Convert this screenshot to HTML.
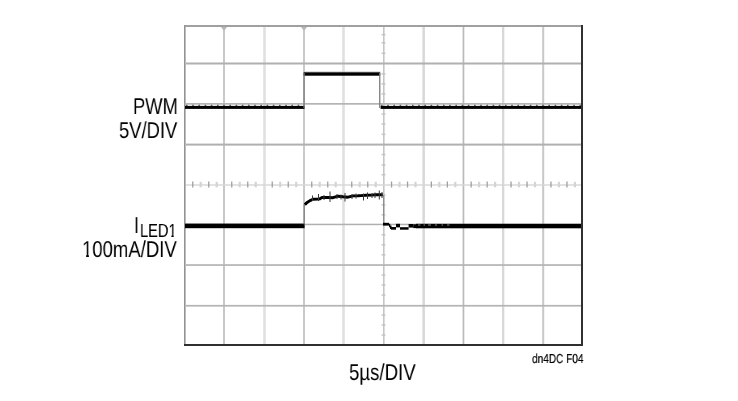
<!DOCTYPE html>
<html><head><meta charset="utf-8">
<style>
html,body{margin:0;padding:0;background:#fff;}
body{width:738px;height:401px;position:relative;overflow:hidden;font-family:"Liberation Sans",sans-serif;color:#000;}
svg{position:absolute;left:0;top:0;}
.t{position:absolute;white-space:nowrap;line-height:1;transform-origin:0 0;will-change:transform;text-rendering:geometricPrecision;color:#000;}
#dn{-webkit-text-stroke:0.2px #000;}
</style></head><body>
<svg width="738" height="401" viewBox="0 0 738 401">
<rect x="223" y="27" width="2" height="317" fill="#c8c8c8"/>
<rect x="263.2" y="27" width="2.6" height="317" fill="#e0e0e0"/>
<rect x="303" y="27" width="2" height="317" fill="#cacaca"/>
<rect x="342.2" y="27" width="2.6" height="317" fill="#e0e0e0"/>
<rect x="383" y="27" width="1.6" height="317" fill="#c6c6c6"/>
<rect x="422.4" y="27" width="2.5" height="317" fill="#d8d8d8"/>
<rect x="462.6" y="27" width="1.7" height="317" fill="#bababa"/>
<rect x="502" y="27" width="2.3" height="317" fill="#d8d8d8"/>
<rect x="542.2" y="27" width="2" height="317" fill="#c8c8c8"/>
<rect x="186" y="62.5" width="395" height="2" fill="#b0b0b0"/>
<rect x="186" y="103" width="395" height="1.7" fill="#b4b4b4"/>
<rect x="186" y="143.6" width="395" height="2" fill="#b0b0b0"/>
<rect x="186" y="184.3" width="395" height="1.4" fill="#d6d6d6"/>
<rect x="186" y="223.7" width="395" height="1.5" fill="#b0b0b0"/>
<rect x="186" y="264.2" width="395" height="1.7" fill="#b4b4b4"/>
<rect x="186" y="304.9" width="395" height="1.7" fill="#b4b4b4"/>
<rect x="192.1" y="181.5" width="1.3" height="6" fill="#a0a0a0"/>
<rect x="199.6" y="181.8" width="2.2" height="5.5" fill="#d4d4d4"/>
<rect x="208.1" y="181.5" width="1.3" height="6" fill="#a0a0a0"/>
<rect x="215.6" y="181.8" width="2.2" height="5.5" fill="#d4d4d4"/>
<rect x="231.1" y="181.5" width="1.3" height="6" fill="#a0a0a0"/>
<rect x="238.6" y="181.8" width="2.2" height="5.5" fill="#d4d4d4"/>
<rect x="247.1" y="181.5" width="1.3" height="6" fill="#a0a0a0"/>
<rect x="254.6" y="181.8" width="2.2" height="5.5" fill="#d4d4d4"/>
<rect x="271.59999999999997" y="181.5" width="1.3" height="6" fill="#a0a0a0"/>
<rect x="279.09999999999997" y="181.8" width="2.2" height="5.5" fill="#d4d4d4"/>
<rect x="287.59999999999997" y="181.5" width="1.3" height="6" fill="#a0a0a0"/>
<rect x="295.09999999999997" y="181.8" width="2.2" height="5.5" fill="#d4d4d4"/>
<rect x="311.09999999999997" y="181.5" width="1.3" height="6" fill="#a0a0a0"/>
<rect x="318.59999999999997" y="181.8" width="2.2" height="5.5" fill="#d4d4d4"/>
<rect x="327.09999999999997" y="181.5" width="1.3" height="6" fill="#a0a0a0"/>
<rect x="334.59999999999997" y="181.8" width="2.2" height="5.5" fill="#d4d4d4"/>
<rect x="351.09999999999997" y="181.5" width="1.3" height="6" fill="#a0a0a0"/>
<rect x="358.59999999999997" y="181.8" width="2.2" height="5.5" fill="#d4d4d4"/>
<rect x="367.09999999999997" y="181.5" width="1.3" height="6" fill="#a0a0a0"/>
<rect x="374.59999999999997" y="181.8" width="2.2" height="5.5" fill="#d4d4d4"/>
<rect x="390.9" y="181.5" width="1.3" height="6" fill="#a0a0a0"/>
<rect x="398.4" y="181.8" width="2.2" height="5.5" fill="#d4d4d4"/>
<rect x="406.9" y="181.5" width="1.3" height="6" fill="#a0a0a0"/>
<rect x="414.4" y="181.8" width="2.2" height="5.5" fill="#d4d4d4"/>
<rect x="430.7" y="181.5" width="1.3" height="6" fill="#a0a0a0"/>
<rect x="438.2" y="181.8" width="2.2" height="5.5" fill="#d4d4d4"/>
<rect x="446.7" y="181.5" width="1.3" height="6" fill="#a0a0a0"/>
<rect x="454.2" y="181.8" width="2.2" height="5.5" fill="#d4d4d4"/>
<rect x="470.49999999999994" y="181.5" width="1.3" height="6" fill="#a0a0a0"/>
<rect x="477.99999999999994" y="181.8" width="2.2" height="5.5" fill="#d4d4d4"/>
<rect x="486.49999999999994" y="181.5" width="1.3" height="6" fill="#a0a0a0"/>
<rect x="493.99999999999994" y="181.8" width="2.2" height="5.5" fill="#d4d4d4"/>
<rect x="510.4" y="181.5" width="1.3" height="6" fill="#a0a0a0"/>
<rect x="517.9" y="181.8" width="2.2" height="5.5" fill="#d4d4d4"/>
<rect x="526.4" y="181.5" width="1.3" height="6" fill="#a0a0a0"/>
<rect x="533.9" y="181.8" width="2.2" height="5.5" fill="#d4d4d4"/>
<rect x="550.3000000000001" y="181.5" width="1.3" height="6" fill="#a0a0a0"/>
<rect x="557.8000000000001" y="181.8" width="2.2" height="5.5" fill="#d4d4d4"/>
<rect x="566.3000000000001" y="181.5" width="1.3" height="6" fill="#a0a0a0"/>
<rect x="573.8000000000001" y="181.8" width="2.2" height="5.5" fill="#d4d4d4"/>
<rect x="381.6" y="33.9" width="3.8" height="1.5" fill="#c4c4c4"/>
<rect x="381.6" y="42.099999999999994" width="3.8" height="1.5" fill="#c4c4c4"/>
<rect x="381.6" y="52.5" width="3.8" height="1.5" fill="#c4c4c4"/>
<rect x="381.6" y="73.1" width="3.8" height="1.5" fill="#c4c4c4"/>
<rect x="381.6" y="83.1" width="3.8" height="1.5" fill="#c4c4c4"/>
<rect x="381.6" y="93.1" width="3.8" height="1.5" fill="#c4c4c4"/>
<rect x="381.6" y="113.3" width="3.8" height="1.5" fill="#c4c4c4"/>
<rect x="381.6" y="123.3" width="3.8" height="1.5" fill="#c4c4c4"/>
<rect x="381.6" y="133.60000000000002" width="3.8" height="1.5" fill="#c4c4c4"/>
<rect x="381.6" y="153.8" width="3.8" height="1.5" fill="#c4c4c4"/>
<rect x="381.6" y="164.3" width="3.8" height="1.5" fill="#c4c4c4"/>
<rect x="381.6" y="174.0" width="3.8" height="1.5" fill="#c4c4c4"/>
<rect x="381.6" y="194.10000000000002" width="3.8" height="1.5" fill="#c4c4c4"/>
<rect x="381.6" y="204.10000000000002" width="3.8" height="1.5" fill="#c4c4c4"/>
<rect x="381.6" y="214.10000000000002" width="3.8" height="1.5" fill="#c4c4c4"/>
<rect x="381.6" y="234.10000000000002" width="3.8" height="1.5" fill="#c4c4c4"/>
<rect x="381.6" y="244.10000000000002" width="3.8" height="1.5" fill="#c4c4c4"/>
<rect x="381.6" y="254.10000000000002" width="3.8" height="1.5" fill="#c4c4c4"/>
<rect x="381.6" y="274.3" width="3.8" height="1.5" fill="#c4c4c4"/>
<rect x="381.6" y="284.3" width="3.8" height="1.5" fill="#c4c4c4"/>
<rect x="381.6" y="294.3" width="3.8" height="1.5" fill="#c4c4c4"/>
<rect x="381.6" y="314.3" width="3.8" height="1.5" fill="#c4c4c4"/>
<rect x="381.6" y="324.3" width="3.8" height="1.5" fill="#c4c4c4"/>
<rect x="381.6" y="334.3" width="3.8" height="1.5" fill="#c4c4c4"/>
<rect x="184" y="25" width="399" height="2" fill="#a0a0a0"/>
<rect x="184" y="25" width="1" height="321" fill="#949494"/>
<rect x="185" y="27" width="1" height="317" fill="#bcbcbc"/>
<rect x="581" y="25" width="2" height="321" fill="#303030"/>
<rect x="184" y="344" width="399" height="2" fill="#303030"/>
<path d="M221,27 L227,27 L224,31 Z" fill="#b8b8b8"/>
<path d="M301,27 L307,27 L304,31 Z" fill="#b8b8b8"/>
<rect x="185" y="105.9" width="119.5" height="3.0" fill="#000"/>
<rect x="380.6" y="105.9" width="200.4" height="3.0" fill="#000"/>
<rect x="303.6" y="71.4" width="76.6" height="1.0" fill="#c8c8c8"/>
<rect x="303.6" y="72.3" width="76.6" height="3.4" fill="#000"/>
<rect x="303.4" y="73" width="1.3" height="35" fill="#7a7a7a"/>
<rect x="379.1" y="73" width="1.3" height="35" fill="#7a7a7a"/>
<line x1="186" y1="105.4" x2="304" y2="105.4" stroke="#5a5a5a" stroke-width="1.1" stroke-dasharray="1.6 4.6"/>
<line x1="381" y1="105.4" x2="581" y2="105.4" stroke="#5a5a5a" stroke-width="1.1" stroke-dasharray="1.6 4.6"/>
<rect x="185" y="223.6" width="119.6" height="4.6" fill="#000"/>
<rect x="303.6" y="204" width="1.2" height="20.5" fill="#7a7a7a"/>
<path d="M304.8,204.6 L307.5,202.2 L310,200.6 L313,199.2 L318,199.0 L320,198.7 L322,197.4 L328,197.5 L333,197.7 L338,196.2 L343,196.8 L348,197.2 L353,195.9 L358,195.8 L361,195.6 L366,195.3 L371,195.1 L376,194.8 L382.8,194.8" fill="none" stroke="#000" stroke-width="2.9" stroke-linejoin="round"/>
<rect x="312.0" y="195.5" width="1.0" height="5.5" fill="#3a3a3a"/>
<rect x="318.0" y="194" width="1.0" height="7" fill="#3a3a3a"/>
<rect x="329.5" y="191.5" width="1.0" height="10.5" fill="#3a3a3a"/>
<rect x="344.5" y="193" width="1.0" height="8.5" fill="#3a3a3a"/>
<rect x="363.0" y="193.5" width="1.0" height="7.0" fill="#3a3a3a"/>
<rect x="367.0" y="192.5" width="1.0" height="6.5" fill="#3a3a3a"/>
<rect x="378.8" y="190.5" width="1.0" height="9.0" fill="#3a3a3a"/>
<rect x="351.5" y="194" width="1.0" height="5" fill="#3a3a3a"/>
<rect x="323.5" y="195" width="1.0" height="5" fill="#3a3a3a"/>
<rect x="336.5" y="194" width="1.0" height="5" fill="#3a3a3a"/>
<rect x="340.5" y="194.5" width="1.0" height="5.0" fill="#3a3a3a"/>
<rect x="355.5" y="193.5" width="1.0" height="5.0" fill="#3a3a3a"/>
<rect x="371.5" y="193" width="1.0" height="5" fill="#3a3a3a"/>
<rect x="374.5" y="192.5" width="1.0" height="5.5" fill="#3a3a3a"/>
<rect x="381.5" y="192" width="1.0" height="6" fill="#3a3a3a"/>
<rect x="383.1" y="195" width="1.2" height="29" fill="#8a8a8a"/>
<rect x="383" y="222.8" width="6" height="2.8" fill="#000"/>
<rect x="389" y="223.8" width="1.2" height="3.5" fill="#000"/>
<rect x="390" y="225.5" width="1.5" height="3.5" fill="#000"/>
<rect x="391" y="227.0" width="5" height="2.7" fill="#000"/>
<rect x="396" y="223.8" width="4" height="3.6" fill="#000"/>
<rect x="400" y="227.2" width="8.6" height="2.5" fill="#000"/>
<rect x="408.6" y="224" width="4.6" height="3.6" fill="#000"/>
<rect x="413.2" y="224.3" width="3" height="3.8" fill="#000"/>
<rect x="416" y="223.8" width="165" height="4.5" fill="#000"/>
<rect x="418" y="224.5" width="2.5" height="1" fill="#888"/>
<rect x="423.5" y="224.5" width="1.5" height="1" fill="#888"/>
<rect x="428" y="224.5" width="3" height="1" fill="#888"/>
<rect x="435" y="224.5" width="2" height="1" fill="#888"/>
<rect x="441.5" y="224.5" width="1.5" height="1" fill="#888"/>
<rect x="447" y="224.5" width="2.5" height="1" fill="#888"/>
</svg>
<div class="t" id="pwm" style="left:133px;top:95px;font-size:23px;transform:scaleX(0.8)">PWM</div>
<div class="t" id="v5" style="left:119px;top:119px;font-size:23px;transform:scaleX(0.8)">5V/DIV</div>
<div class="t" id="iled" style="left:134px;top:214px;font-size:23px;transform:scaleX(0.8)">I</div>
<div class="t" id="led" style="left:140px;top:222px;font-size:19px;transform:scaleX(0.77)">LED1</div>
<div class="t" id="ma" style="left:82px;top:238px;font-size:23px;transform:scaleX(0.806)">100mA/DIV</div>
<div class="t" id="us" style="left:348.6px;top:361.3px;font-size:23px;transform:scaleX(0.81)">5µs/DIV</div>
<div class="t" id="dn" style="left:532.2px;top:351.5px;font-size:13px;transform:scaleX(0.775)">dn4DC F04</div>
<svg width="738" height="401" viewBox="0 0 738 401" style="z-index:5">
<rect x="82.5" y="254.6" width="3.6" height="2.6" fill="#fff"/>
<rect x="88.9" y="254.6" width="3.3" height="2.6" fill="#fff"/>
<rect x="168.4" y="234.6" width="3.0" height="2.6" fill="#fff"/>
<rect x="173.7" y="234.6" width="3.3" height="2.6" fill="#fff"/>
</svg>
</body></html>
